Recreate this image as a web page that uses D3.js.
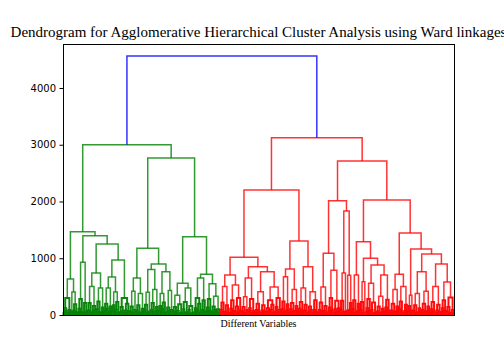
<!DOCTYPE html>
<html><head><meta charset="utf-8">
<script src="https://cdn.jsdelivr.net/npm/d3@7"></script>
<style>html,body{margin:0;padding:0;background:#fff;}</style>
</head><body>
<svg id="chart" width="504" height="360"></svg>
<script>
// ---- data (merge heights; node = [height, left, right], leaf = 0) ----
const title = "Dendrogram for Agglomerative Hierarchical Cluster Analysis using Ward linkages";
const xLabel = "Different Variables";
const yTicks = [0, 1000, 2000, 3000, 4000];
const rootHeight = 4564;

// green (left) cluster pieces
const greenA1 = [634, [300,[120,[40,0,0],[70,0,0]],[90,[30,0,0],0]], [405,[60,0,0],[190,[80,0,0],[50,0,0]]]];
const greenA2a = [930, [280,[110,[40,0,0],0],[50,0,0]], [210,[40,0,0],[60,0,0]]];
const greenA2b1 = [740, [500,[210,[80,0,0],[40,0,0]],[160,[60,0,0],[90,0,0]]], [475,[240,[100,0,0],[50,0,0]],[130,[40,0,0],0]]];
const greenA2b2a = [670, [475,[200,[70,0,0],[110,0,0]],[150,[50,0,0],0]], [405,[170,[60,0,0],0],[230,[90,0,0],[40,0,0]]]];
const greenA2b2b = [300, [140,[50,0,0],[70,0,0]], [200,[80,[30,0,0],0],[60,0,0]]];
const greenB1a = [650, [420,[150,[60,0,0],[40,0,0]],[90,0,0]], [380,[170,[70,0,0],[30,0,0]],[110,[50,0,0],0]]];
const greenB1b1 = [800, [400,[180,[80,0,0],[40,0,0]],[60,0,0]], [450,[210,[90,0,0],[50,0,0]],[140,[60,0,0],0]]];
const greenB1b2 = [760, [380,[160,[70,0,0],0],[220,[100,0,0],[40,0,0]]], [430,[130,[50,0,0],[80,0,0]],[90,0,0]]];
const greenB2a = [560, [350,[140,[60,0,0],[30,0,0]],[190,[70,0,0],[40,[20,0,0],0]]], [475,[230,[100,0,0],[50,[30,0,0],0]],[160,[90,0,0],[30,[20,0,0],0]]]];
const greenB2b1 = [650, [300,[120,[50,0,0],0],[200,[80,0,0],[40,0,0]]], [260,[90,0,0],[60,0,0]]];
const greenB2b2 = [550, [280,[130,[60,0,0],0],[70,0,0]], [330,[150,[50,0,0],[90,0,0]],[100,[60,0,0],[30,0,0]]]];
const greenCluster = [3000,
  [1468, greenA1, [1397, greenA2a, [1251, greenA2b1, [970, greenA2b2a, greenA2b2b]]]],
  [2766, [1175, greenB1a, [900, greenB1b1, greenB1b2]], [1380, greenB2a, [720, greenB2b1, greenB2b2]]]];

// red (right) cluster pieces
const redR1a1 = [705, [500,[220,[90,0,0],[50,0,0]],[170,[60,0,0],[30,0,0]]], [530,[260,[110,[40,0,0],0],[70,0,0]],[300,[150,[60,0,0],[30,0,0]],[80,0,0]]]];
const redR1a2a = [650, [320,[140,[60,0,0],[30,0,0]],[90,0,0]], [280,[120,[60,0,0],0],[70,[30,0,0],0]]];
const redR1a2b = [763, [410,[200,[90,[40,0,0],0],[50,0,0]],[170,[80,[30,0,0],0],[60,0,0]]], [495,[260,[120,[50,0,0],[70,0,0]],[180,[90,0,0],[40,0,0]]],[300,[140,[60,0,0],0],[90,[40,0,0],0]]]];
const redR1b1 = [810, [675,[240,[100,0,0],[50,0,0]],[190,[80,0,0],0]], [450,[210,[100,[40,0,0],0],[60,0,0]],[160,[70,0,0],0]]];
const redR1b2 = [850, [475,[230,[110,[50,0,0],0],[70,0,0]],[180,[80,0,0],[40,0,0]]], [410,[150,[60,0,0],[90,0,0]],[260,[90,[40,0,0],0],[50,0,0]]]];
const redR2a1 = [1090, [495,[220,[90,[40,0,0],0],[60,0,0]],[160,[70,0,0],[30,0,0]]], [790,[300,[130,[60,0,0],0],[80,0,0]],[250,[100,[40,0,0],0],[120,[50,0,0],0]]]];
const redR2a2 = [1832, [740,[250,[90,0,0],[50,0,0]],[60,0,0]], [700,[80,0,0],[210,[90,0,0],0]]];
const redR2b1a = [705, [260,[100,0,0],[40,0,0]], [200,[70,0,0],0]];
const redR2b1b = [587, [230,[90,0,0],[40,0,0]], 0];
const redR2b1c = [880, [560,[280,[120,[50,0,0],0],[70,0,0]],[220,[90,0,0],[40,[20,0,0],0]]], [705,[330,[150,[60,0,0],[30,0,0]],[110,[50,0,0],0]],[270,[130,[60,0,0],0],[80,0,0]]]];
const redR2b2a = [720, [450,[200,[80,[30,0,0],0],[50,0,0]],[150,[60,0,0],0]], [500,[240,[100,0,0],[50,0,0]],[180,[70,[30,0,0],0],0]]];
const redR2b2b = [350, [160,[60,0,0],0], [80,0,0]];
const redR2b2c = [763, [380,[170,[70,0,0],[30,0,0]],[120,[50,0,0],0]], [420,[200,[90,[40,0,0],0],[60,0,0]],[150,[60,0,0],0]]];
const redR2b2d = [900, [500,[230,[100,[40,0,0],0],[60,0,0]],[180,[80,[30,0,0],0],[50,0,0]]], [580,[260,[120,[50,0,0],0],[70,0,0]],[310,[140,[60,0,0],[30,0,0]],[90,[40,0,0],0]]]];
const redCluster = [3124,
  [2203, [1016, redR1a1, [850, redR1a2a, redR1a2b]], [1305, redR1b1, redR1b2]],
  [2713, [2015, redR2a1, redR2a2],
         [2026, [1292, redR2b1a, [1000, redR2b1b, redR2b1c]],
                [1445, redR2b2a, [1163, redR2b2b, [1075, redR2b2c, redR2b2d]]]]]];

const clusterColors = {green: "#008000", red: "#ff0000", above: "#0000ff"};

// ---- layout ----
const svg = d3.select("#chart");
const plot = {left: 63, right: 454, top: 44, bottom: 315};

function countLeaves(n){ return Array.isArray(n) ? countLeaves(n[1]) + countLeaves(n[2]) : 1; }
const nLeaves = countLeaves(greenCluster) + countLeaves(redCluster);

const x = d3.scaleLinear().domain([0, 10 * nLeaves]).range([plot.left, plot.right]);
const y = d3.scaleLinear().domain([0, 4775]).range([plot.bottom, plot.top]);

let leafIdx = 0;
const links = [];
function layout(n, color){
  if (!Array.isArray(n)) { const p = {x: 10 * leafIdx + 5, h: 0}; leafIdx++; return p; }
  const a = layout(n[1], color), b = layout(n[2], color);
  links.push({a, b, h: n[0], color});
  return {x: (a.x + b.x) / 2, h: n[0]};
}
const g = layout(greenCluster, clusterColors.green);
const r = layout(redCluster, clusterColors.red);
links.push({a: g, b: r, h: rootHeight, color: clusterColors.above});

// dense low-level links are drawn a little heavier so the packed leaves read as a solid band
const low = d => d.h < 320;
svg.append("g").selectAll("path").data(links).join("path")
  .attr("d", d => `M${x(d.a.x)},${y(d.a.h)}V${y(d.h)}H${x(d.b.x)}V${y(d.b.h)}`)
  .attr("fill", "none")
  .attr("stroke", d => d.color)
  .attr("stroke-opacity", d => low(d) ? 0.95 : 0.8)
  .attr("stroke-width", d => low(d) ? 2 : 1.5);

// frame
svg.append("rect").attr("x", plot.left).attr("y", plot.top)
  .attr("width", plot.right - plot.left).attr("height", plot.bottom - plot.top)
  .attr("fill", "none").attr("stroke", "#000").attr("stroke-width", 1)
  .attr("shape-rendering", "crispEdges");

// y axis
const yAxis = svg.append("g").attr("transform", `translate(${plot.left},0)`)
  .call(d3.axisLeft(y).tickValues(yTicks).tickSize(3.5).tickPadding(3.5).tickFormat(d3.format("d")));
yAxis.select(".domain").remove();
yAxis.selectAll("text").attr("font-family", "DejaVu Sans").attr("font-size", 10).attr("fill", "#000");
yAxis.selectAll("line").attr("stroke", "#000");

// title and label
svg.append("text").attr("x", (plot.left + plot.right) / 2).attr("y", 37)
  .attr("text-anchor", "middle").attr("font-family", "Liberation Serif, Times New Roman, serif")
  .attr("font-size", 15).attr("fill", "#000").text(title);
svg.append("text").attr("x", (plot.left + plot.right) / 2).attr("y", 327)
  .attr("text-anchor", "middle").attr("font-family", "Liberation Serif, Times New Roman, serif")
  .attr("font-size", 10).attr("fill", "#000").text(xLabel);
</script>
</body></html>
